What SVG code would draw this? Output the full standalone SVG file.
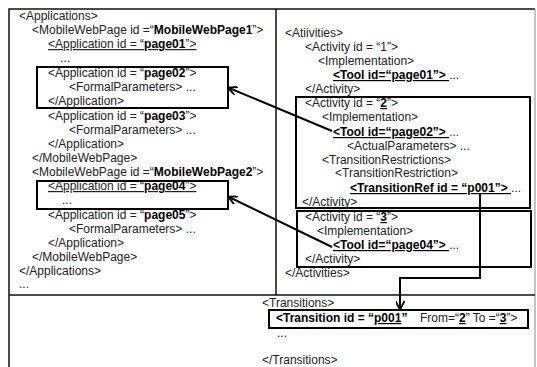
<svg xmlns="http://www.w3.org/2000/svg" width="537" height="367" viewBox="0 0 537 367">
<defs>
<marker id="ah" viewBox="0 0 10 10" refX="9" refY="5" markerWidth="9" markerHeight="9" orient="auto" markerUnits="userSpaceOnUse">
<path d="M0,0 L10,5 L0,10" fill="none" stroke="#000" stroke-width="2"/>
</marker>
<style>
text{font-family:"Liberation Sans",Arial,sans-serif;font-size:12px;fill:#222}
.b{font-weight:bold;fill:#000}
.u{text-decoration:underline}
.frame{fill:none;stroke:#111;stroke-width:1.5}
.box{fill:none;stroke:#000;stroke-width:2}
.conn{fill:none;stroke:#000;stroke-width:2}
</style>
</defs>
<rect width="537" height="367" fill="#fff"/>
<g id="frame">
<path class="frame" d="M9,367 V9 H535"/>
<path d="M535,9 V367" stroke="#888" stroke-width="1" fill="none"/>
<path class="frame" d="M276,9 V295 M9,295 H535"/>
</g>
<g id="applications">
<text x="19" y="20">&lt;Applications&gt;</text>
<text x="32" y="34">&lt;MobileWebPage id =“<tspan class="b">MobileWebPage1</tspan>”&gt;</text>
<text x="48" y="48" class="u">&lt;Application id = “<tspan class="b">page01</tspan>”&gt;</text>
<text x="60" y="62">...</text>
<g id="app-page02">
<rect class="box" x="37" y="67" width="191" height="41"/>
<text x="48" y="77">&lt;Application id = “<tspan class="b">page02</tspan>”&gt;</text>
<text x="69" y="91">&lt;FormalParameters&gt; ...</text>
<text x="48" y="105">&lt;/Application&gt;</text>
</g>
<text x="48" y="120">&lt;Application id = “<tspan class="b">page03</tspan>”&gt;</text>
<text x="69" y="134">&lt;FormalParameters&gt; ...</text>
<text x="48" y="148">&lt;/Application&gt;</text>
<text x="32" y="162">&lt;/MobileWebPage&gt;</text>
<text x="32" y="176">&lt;MobileWebPage id =“<tspan class="b">MobileWebPage2</tspan>”&gt;</text>
<g id="app-page04">
<rect class="box" x="37" y="181" width="191" height="28"/>
<text x="48" y="190" class="u">&lt;Application id = “<tspan class="b">page04</tspan>”&gt;</text>
<text x="62" y="204">...</text>
</g>
<text x="48" y="219">&lt;Application id = “<tspan class="b">page05</tspan>”&gt;</text>
<text x="69" y="233">&lt;FormalParameters&gt; ...</text>
<text x="48" y="247">&lt;/Application&gt;</text>
<text x="32" y="261">&lt;/MobileWebPage&gt;</text>
<text x="19" y="275">&lt;/Applications&gt;</text>
<text x="19" y="288">...</text>
</g>
<g id="activities">
<text x="285" y="37">&lt;Atiivities&gt;</text>
<text x="305" y="51">&lt;Activity id = “1”&gt;</text>
<text x="318" y="65">&lt;Implementation&gt;</text>
<text x="333" y="79"><tspan class="b u">&lt;Tool id=“page01”&gt; </tspan> ...</text>
<text x="305" y="93">&lt;/Activity&gt;</text>
<g id="activity-2">
<rect class="box" x="296" y="97" width="234" height="111"/>
<text x="305" y="107">&lt;Activity id = “<tspan class="b u">2</tspan>”&gt;</text>
<text x="322" y="121">&lt;Implementation&gt;</text>
<text x="333" y="136"><tspan class="b u">&lt;Tool id=“page02”&gt; </tspan> ...</text>
<text x="347" y="150">&lt;ActualParameters&gt; ...</text>
<text x="322" y="164">&lt;TransitionRestrictions&gt;</text>
<text x="335" y="177">&lt;TransitionRestriction&gt;</text>
<text x="350" y="192"><tspan class="b u">&lt;TransitionRef id = “p001”&gt; </tspan> ...</text>
<text x="302" y="206">&lt;/Activity&gt;</text>
</g>
<g id="activity-3">
<rect class="box" x="297" y="211" width="234" height="56"/>
<text x="305" y="221">&lt;Activity id = “<tspan class="b u">3</tspan>”&gt;</text>
<text x="317" y="235">&lt;Implementation&gt;</text>
<text x="333" y="249"><tspan class="b u">&lt;Tool id=“page04”&gt; </tspan> ...</text>
<text x="305" y="263">&lt;/Activity&gt;</text>
</g>
<text x="285" y="277">&lt;/Activities&gt;</text>
</g>
<g id="transitions">
<text x="262" y="307">&lt;Transitions&gt;</text>
<g id="transition-p001">
<rect class="box" x="269" y="310" width="259" height="18"/>
<text x="276" y="322"><tspan class="b">&lt;Transition id = “<tspan class="u">p001</tspan>”</tspan><tspan x="420">From=“<tspan class="b u">2</tspan>” To =“<tspan class="b u">3</tspan>”&gt;</tspan></text>
</g>
<text x="277" y="337">...</text>
<text x="262" y="364">&lt;/Transitions&gt;</text>
</g>
<g id="connectors">
<path class="conn" d="M332,131 L229,88" marker-end="url(#ah)"/>
<path class="conn" d="M332,247 L229,197" marker-end="url(#ah)"/>
<path class="conn" d="M480,193 V278 H400 V309" marker-end="url(#ah)"/>
</g>
</svg>
